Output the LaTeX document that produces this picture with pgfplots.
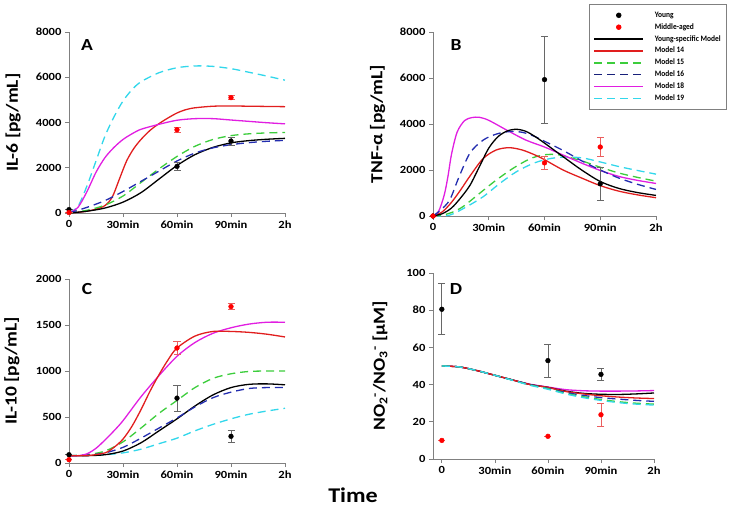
\documentclass[border=0pt]{standalone}
\usepackage{fontspec}
\setmainfont{Carlito}[FakeStretch=1.15]
\newfontfamily\legfont{Carlito}[FakeStretch=0.9]
\usepackage{pgfplots}
\pgfplotsset{compat=1.18}

\definecolor{cRed}{RGB}{225,30,30}
\definecolor{cGreen}{RGB}{60,205,60}
\definecolor{cBlue}{RGB}{35,45,175}
\definecolor{cMag}{RGB}{225,30,225}
\definecolor{cCyan}{RGB}{50,215,235}
\definecolor{cRedErr}{RGB}{235,95,95}
\definecolor{axgray}{RGB}{128,128,128}

\tikzset{lbl/.style={font=\bfseries\fontsize{17}{17}\selectfont}}

\pgfplotsset{
  panel/.style={
    scale only axis,
    axis lines*=left,
    axis line style={axgray, line width=0.7bp},
    tick style={axgray, line width=0.7bp},
    major tick length=4bp,
    tick align=outside,
    xmin=0, xmax=120,
    xtick={0,30,60,90,120},
    xticklabels={0,30min,60min,90min,2h},
    ticklabel style={font=\bfseries\fontsize{11}{11}\selectfont},
    /pgf/number format/assume math mode=true,
    yticklabel style={/pgf/number format/1000 sep={}},
    scaled ticks=false,
    clip=false,
    ylabel style={font=\bfseries\fontsize{17}{17}\selectfont, anchor=center},
  },
  mod/.style={line width=1.3bp, smooth},
  dsh/.style={mod, dash pattern=on 8bp off 5bp},
  young/.style={only marks, mark=*, mark size=2.4bp, black,
    error bars/.cd, y dir=both, y explicit,
    error bar style={axgray!80!black, line width=0.7bp},
    error mark options={rotate=90, mark size=3.5bp, axgray!80!black, line width=0.7bp}},
  middle/.style={only marks, mark=*, mark size=2.4bp, red,
    error bars/.cd, y dir=both, y explicit,
    error bar style={cRedErr, line width=0.7bp},
    error mark options={rotate=90, mark size=3.5bp, cRedErr, line width=0.7bp}},
}

\begin{document}
\begin{tikzpicture}
\path[use as bounding box] (0,0) rectangle (734bp,-523bp);

% ---------- A: IL-6
\begin{axis}[panel, at={(69bp,-213bp)}, anchor=south west,
  width=216bp, height=181bp, ymin=0, ymax=8000, ytick={0,2000,...,8000},
  ylabel={IL-6 [pg/mL]}, ylabel style={at={(axis description cs:-0.259,0.5)}}]
\addplot[cCyan, dsh] coordinates {(0,0)(5,300)(10,1200)(15,2300)(20,3400)(25,4250)(30,4950)(35,5450)(40,5800)(50,6200)(60,6420)(70,6500)(80,6480)(90,6380)(100,6220)(110,6050)(120,5870)};
\addplot[cRed, mod] coordinates {(0,0)(5,30)(10,80)(15,170)(20,330)(24,700)(28,1500)(32,2300)(36,2850)(40,3250)(45,3650)(50,3950)(55,4200)(60,4420)(65,4570)(70,4650)(80,4720)(90,4730)(100,4720)(110,4710)(120,4700)};
\addplot[cMag, mod] coordinates {(0,0)(5,250)(10,950)(15,1800)(20,2450)(25,2900)(30,3250)(35,3500)(40,3700)(50,3920)(60,4100)(70,4170)(80,4170)(90,4110)(100,4050)(110,3990)(120,3940)};
\addplot[cGreen, dsh] coordinates {(0,0)(10,120)(20,350)(30,750)(40,1350)(50,1950)(60,2500)(70,2950)(80,3250)(90,3420)(100,3500)(110,3540)(120,3560)};
\addplot[black, mod] coordinates {(0,0)(10,80)(20,220)(30,480)(40,900)(50,1500)(60,2100)(70,2580)(80,2900)(90,3100)(100,3200)(110,3260)(120,3300)};
\addplot[cBlue, dsh] coordinates {(0,0)(10,250)(20,550)(30,950)(40,1400)(50,1850)(60,2300)(70,2650)(80,2880)(90,3020)(100,3110)(110,3170)(120,3210)};
\addplot[young] table[x=t, y=v, y error=e] {
t v e
0 150 0
60 2060 190
90 3180 170
};
\addplot[middle] table[x=t, y=v, y error=e] {
t v e
0 20 0
60 3680 120
90 5100 80
};
\node[lbl] at (rel axis cs:0.083,0.928) {A};
\end{axis}

% ---------- B: TNF-alpha
\begin{axis}[panel, at={(433bp,-216bp)}, anchor=south west,
  width=223bp, height=184bp, ymin=0, ymax=8000, ytick={0,2000,...,8000},
  ylabel={TNF-α [pg/mL]}, ylabel style={at={(axis description cs:-0.248,0.5)}},
  legend image code/.code={\draw[mark repeat=2, mark phase=2, #1] plot coordinates {(0bp,0bp)(24.5bp,0bp)(49bp,0bp)};},
  legend style={at={(1.318,1.152)}, anchor=north east, draw=axgray, line width=0.6bp,
    fill=white, font=\legfont\bfseries\fontsize{8.3}{8.3}\selectfont,
    inner xsep=4bp, inner ysep=5bp, column sep=9bp,
    nodes={inner xsep=2bp, inner ysep=1.95bp, text height=6bp, text depth=2bp}},
  legend cell align=left]
\addlegendimage{only marks, mark=*, mark size=2.4bp, black}
\addlegendimage{only marks, mark=*, mark size=2.4bp, red}
\addlegendimage{black, line width=1.3bp}
\addlegendimage{cRed, line width=1.3bp}
\addlegendimage{cGreen, line width=1.3bp, dash pattern=on 8bp off 5bp}
\addlegendimage{cBlue!70!black, line width=1.3bp, dash pattern=on 8bp off 5bp}
\addlegendimage{cMag, line width=1.3bp}
\addlegendimage{cCyan, line width=1.3bp, dash pattern=on 8bp off 5bp}
\addplot[cCyan, dsh] coordinates {(0,0)(9,40)(18,400)(27,840)(36,1420)(45,1930)(54,2290)(62,2480)(70,2560)(80,2530)(90,2350)(100,2150)(110,1980)(120,1820)};
\addplot[cGreen, dsh] coordinates {(0,0)(5,40)(10,150)(16,400)(25,980)(34,1560)(43,2070)(52,2480)(59,2650)(65,2680)(70,2620)(80,2400)(90,2120)(100,1870)(110,1680)(120,1515)};
\addplot[cRed, mod] coordinates {(0,0)(5,180)(10,600)(15,1150)(20,1750)(27,2500)(34,2870)(41,2970)(48,2870)(55,2650)(60,2450)(70,2000)(80,1650)(90,1320)(100,1080)(110,920)(120,795)};
\addplot[cMag, mod] coordinates {(0,0)(3,200)(6,900)(8,1700)(10,2700)(13,3650)(17,4150)(21,4280)(25,4290)(30,4160)(40,3720)(50,3300)(60,3000)(70,2650)(80,2300)(90,1980)(100,1720)(110,1550)(120,1415)};
\addplot[cBlue, dsh] coordinates {(0,0)(4,250)(9,700)(14,1700)(20,2750)(27,3300)(34,3560)(41,3670)(48,3640)(55,3450)(60,3250)(70,2850)(80,2400)(90,2000)(100,1650)(110,1380)(120,1155)};
\addplot[black, mod] coordinates {(0,0)(5,100)(10,350)(15,800)(20,1350)(25,2150)(30,2950)(35,3450)(40,3700)(45,3770)(50,3680)(55,3450)(60,3170)(70,2580)(80,2000)(90,1500)(100,1200)(110,1020)(120,895)};
\addplot[young] table[x=t, y=v, y error=e] {
t v e
0 0 0
60 5930 1890
90 1400 720
};
\addplot[middle] table[x=t, y=v, y error=e] {
t v e
0 0 0
60 2310 270
90 3000 420
};
\legend{Young, Middle-aged, Young-specific Model, Model 14, Model 15, Model 16, Model 18, Model 19}
\node[lbl] at (rel axis cs:0.104,0.929) {B};
\end{axis}

% ---------- C: IL-10
\begin{axis}[panel, at={(69bp,-463bp)}, anchor=south west,
  width=216bp, height=184bp, ymin=0, ymax=2000, ytick={0,500,...,2000},
  ylabel={IL-10 [pg/mL]}, ylabel style={at={(axis description cs:-0.264,0.5)}}]
\addplot[cCyan, dsh] coordinates {(0,80)(10,80)(20,90)(30,110)(40,150)(50,210)(60,270)(70,350)(80,420)(90,480)(100,530)(110,565)(120,595)};
\addplot[cGreen, dsh] coordinates {(0,80)(10,90)(20,130)(30,230)(40,380)(50,540)(60,680)(70,820)(80,920)(90,970)(100,995)(110,1000)(120,1000)};
\addplot[black, mod] coordinates {(0,80)(10,80)(20,90)(30,130)(40,220)(50,350)(60,480)(70,620)(80,740)(90,820)(100,855)(110,860)(120,850)};
\addplot[cBlue, dsh] coordinates {(0,80)(10,85)(20,110)(30,170)(40,270)(50,380)(60,490)(70,610)(80,710)(90,770)(100,810)(110,820)(120,820)};
\addplot[cMag, mod] coordinates {(0,80)(5,80)(10,100)(15,160)(20,250)(25,350)(30,460)(40,720)(50,950)(60,1160)(70,1310)(80,1410)(90,1470)(100,1510)(110,1530)(120,1530)};
\addplot[cRed, mod] coordinates {(0,80)(10,80)(20,110)(25,170)(30,260)(35,400)(40,580)(45,780)(50,960)(55,1120)(60,1250)(70,1380)(80,1430)(90,1430)(100,1420)(110,1400)(120,1370)};
\addplot[young] table[x=t, y=v, y error=e] {
t v e
0 90 0
60 705 140
90 290 65
};
\addplot[middle] table[x=t, y=v, y error=e] {
t v e
0 36 0
60 1250 70
90 1700 30
};
\node[lbl] at (rel axis cs:0.083,0.946) {C};
\end{axis}

% ---------- D: NO2/NO3
\begin{axis}[panel, at={(433bp,-459bp)}, anchor=south west, xmin=-5,
  width=221bp, height=186bp, ymin=0, ymax=100, ytick={0,20,...,100},
  ylabel={NO\textsubscript{2}\textsuperscript{-}/NO\textsubscript{3}\textsuperscript{-} [µM]},
  ylabel style={at={(axis description cs:-0.24,0.5)}}]
\addplot[cMag, mod] coordinates {(0,50)(10,49.5)(20,47.5)(30,45)(40,42.5)(50,40.2)(60,38.7)(70,37.3)(80,36.7)(90,36.5)(100,36.5)(110,36.6)(120,36.8)};
\addplot[black, mod] coordinates {(0,50)(10,49.5)(20,47.5)(30,45)(40,42.5)(50,40)(60,38.5)(70,36.5)(80,35.3)(90,34.8)(100,34.7)(110,35)(120,35.5)};
\addplot[cRed, mod] coordinates {(0,50)(10,49.5)(20,47.5)(30,45)(40,42.5)(50,40)(60,38.5)(70,36.3)(80,35)(90,34)(100,33.3)(110,32.8)(120,32.5)};
\addplot[cBlue, dsh] coordinates {(0,50)(10,49.5)(20,47.5)(30,45)(40,42.5)(50,40)(60,38)(70,35.8)(80,34.2)(90,33)(100,32.2)(110,31.5)(120,31)};
\addplot[cGreen, dsh] coordinates {(0,50)(10,49.5)(20,47.5)(30,45)(40,42.4)(50,39.8)(60,37.8)(70,35.3)(80,33.5)(90,32)(100,30.8)(110,30)(120,29.5)};
\addplot[cCyan, dsh] coordinates {(0,50)(10,49.5)(20,47.5)(30,45)(40,42.3)(50,39.6)(60,37.5)(70,35)(80,33)(90,31.5)(100,30.3)(110,29.5)(120,29)};
\addplot[young] table[x=t, y=v, y error=e] {
t v e
0 80.5 13.7
60 52.9 8.8
90 45.5 3
};
\addplot[middle] table[x=t, y=v, y error=e] {
t v e
0 10 0
60 12.2 0
90 23.8 6
};
\node[lbl] at (rel axis cs:0.104,0.914) {D};
\end{axis}

\node[font=\bfseries\fontsize{21}{21}\selectfont] at (353bp,-495bp) {Time};
\end{tikzpicture}
\end{document}
